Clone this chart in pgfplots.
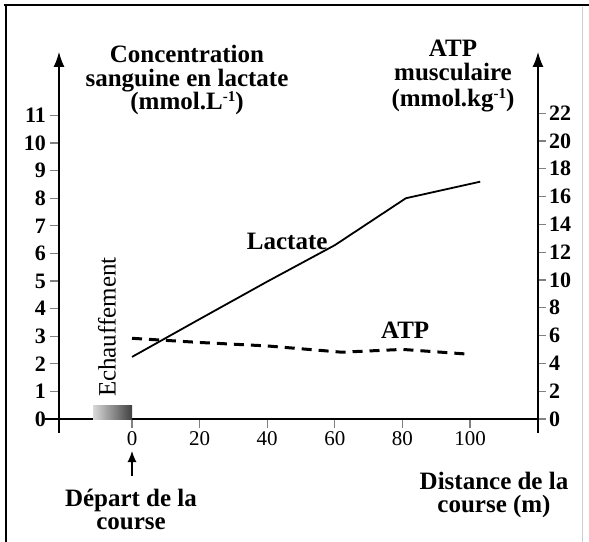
\documentclass[border=0pt]{standalone}
\usepackage{pgfplots}
\pgfplotsset{compat=1.18}
\usepackage{fontspec}
\setmainfont{Liberation Serif}
\usetikzlibrary{arrows.meta}
\newcommand{\mysup}[1]{\raisebox{0.32em}{\fontsize{15bp}{15bp}\selectfont #1}}

\begin{document}
\begin{tikzpicture}
\useasboundingbox (-59bp,-109.2bp) rectangle (530bp,432.8bp);
\draw[line width=2.2bp] (-55bp,427.8bp) -- (530bp,427.8bp);
\draw[line width=2bp] (-53bp,428.8bp) -- (-53bp,-109.2bp);
\draw[black!20, line width=0.8bp] (523bp,426bp) -- (523bp,-109.2bp);

\begin{axis}[
  at={(0,0)}, anchor=south west,
  scale only axis, width=479bp, height=380.8bp,
  xmin=-21.6, xmax=120.1, ymin=-0.5, ymax=13.3,
  axis x line*=middle, axis y line*=left,
  x axis line style={line width=1.3bp},
  y axis line style={line width=1.3bp, -{Latex[length=15bp,width=11bp]}},
  xtick={0,20,40,60,80,100},
  ytick={0,1,...,11},
  xtick align=outside, ytick align=outside,
  x tick style={line width=1.2bp}, y tick style={line width=1.2bp},
  major tick length=9bp,
  /pgf/number format/assume math mode=true,
  xticklabel style={font=\fontsize{21bp}{21bp}\selectfont, inner sep=3bp},
  yticklabel style={font=\bfseries\fontsize{22bp}{22bp}\selectfont, inner sep=4bp},
  clip=false,
]
\addplot[draw=none, shade, left color=black!15, right color=black!75] coordinates {(-11.5,0) (0,0) (0,0.48) (-11.5,0.48)} -- cycle;
\addplot[black, line width=1.8bp] coordinates {(0,2.25) (20,3.62) (40,4.98) (60,6.3) (81,8.0) (103,8.6)};
\draw[line width=1.3bp] (axis cs:-25.6,0) -- (axis cs:-21.6,0);
\node[font=\bfseries\fontsize{25bp}{23bp}\selectfont] at (axis cs:45.9,6.45) {Lactate};
\node[font=\bfseries\fontsize{25bp}{23bp}\selectfont] at (axis cs:80.8,3.22) {ATP};
\node[font=\fontsize{25bp}{23bp}\selectfont, rotate=90] at (axis cs:-7.4,3.33) {Echauffement};
\end{axis}

\begin{axis}[
  at={(0,0)}, anchor=south west,
  scale only axis, width=479bp, height=380.8bp,
  xmin=-21.6, xmax=120.1, ymin=-1, ymax=26.4,
  hide x axis, axis y line*=right,
  y axis line style={line width=1.3bp, -{Latex[length=15bp,width=11bp]}},
  ytick={0,2,...,22},
  ytick align=outside,
  y tick style={line width=1.2bp},
  major tick length=8bp,
  /pgf/number format/assume math mode=true,
  yticklabel style={font=\bfseries\fontsize{22bp}{22bp}\selectfont, inner sep=3bp},
  clip=false,
]
\addplot[black, line width=3bp, dash pattern=on 10bp off 7bp] coordinates {(0,5.8) (20,5.5) (40,5.25) (62,4.8) (80,5.0) (100,4.65)};
\end{axis}

\node[font=\bfseries\fontsize{25bp}{23.5bp}\selectfont, align=center] at (128bp,352.8bp) {Concentration\\sanguine en lactate\\(mmol.L\mysup{-1})};
\node[font=\bfseries\fontsize{25bp}{24bp}\selectfont, align=center] at (394bp,357bp) {ATP\\musculaire\\[2bp](mmol.kg\mysup{-1})};
\draw[line width=1.2bp, -{Latex[length=11bp,width=9bp]}] (73bp,-43.2bp) -- (73bp,-18.2bp);
\node[font=\bfseries\fontsize{25bp}{23bp}\selectfont, align=center] at (72bp,-76.2bp) {Départ de la\\course};
\node[font=\bfseries\fontsize{25bp}{23bp}\selectfont, align=center] at (435bp,-62.2bp) {Distance de la\\course (m)};
\end{tikzpicture}
\end{document}
